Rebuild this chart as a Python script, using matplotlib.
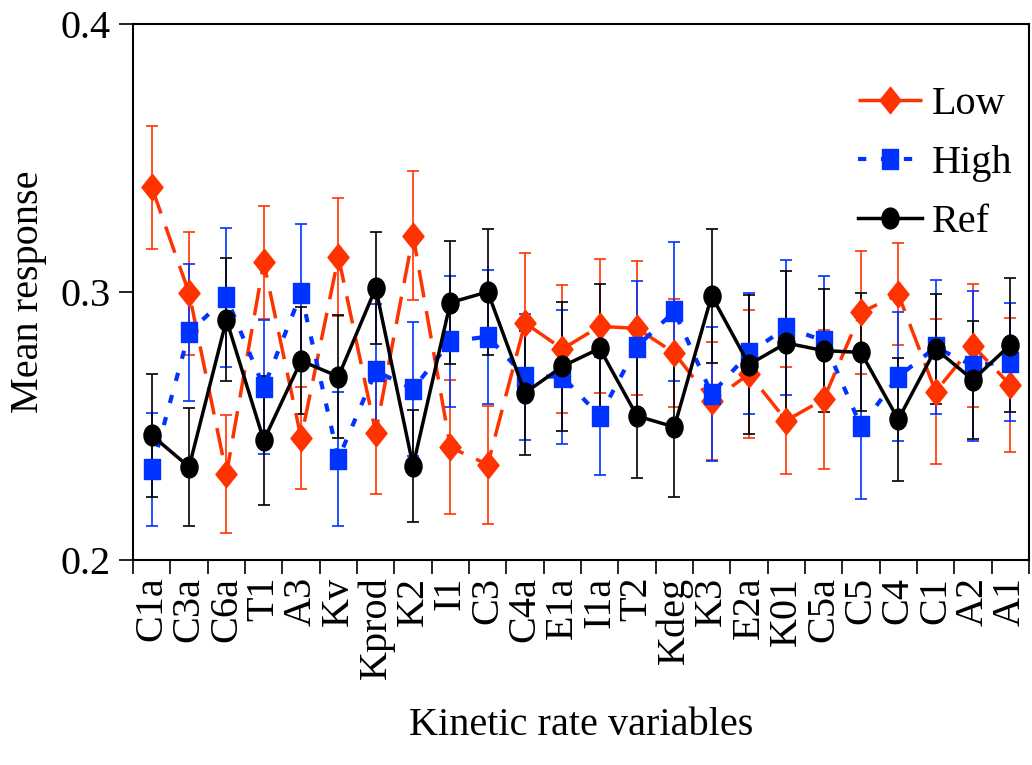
import matplotlib
matplotlib.use("Agg")
import matplotlib.pyplot as plt
import numpy as np
from matplotlib.path import Path
from matplotlib.ticker import FixedLocator

plt.rcParams["font.family"] = ["Liberation Serif", "DejaVu Serif"]

labels = ["C1a", "C3a", "C6a", "T1", "A3", "Kv", "Kprod", "K2", "I1", "C3", "C4a", "E1a",
          "I1a", "T2", "Kdeg", "K3", "E2a", "K01", "C5a", "C5", "C4", "C1", "A2", "A1"]

low = [0.339, 0.2995, 0.232, 0.311, 0.2455, 0.313, 0.2475, 0.321, 0.242, 0.2356, 0.2884, 0.2787,
       0.2871, 0.2864, 0.2772, 0.2592, 0.2694, 0.252, 0.2599, 0.2923, 0.2991, 0.2628, 0.2799, 0.2653]
low_err = [0.023, 0.023, 0.022, 0.021, 0.019, 0.022, 0.023, 0.024, 0.025, 0.022, 0.026, 0.024,
           0.025, 0.025, 0.020, 0.022, 0.024, 0.020, 0.026, 0.023, 0.019, 0.027, 0.023, 0.025]

high = [0.2338, 0.2849, 0.2979, 0.2644, 0.2994, 0.2378, 0.2704, 0.2638, 0.2815, 0.2833, 0.2684, 0.2684,
        0.2537, 0.2796, 0.2927, 0.262, 0.2771, 0.2867, 0.2818, 0.2499, 0.2684, 0.2793, 0.2725, 0.274]
high_err = [0.021, 0.0255, 0.026, 0.025, 0.026, 0.025, 0.025, 0.025, 0.0245, 0.025, 0.0235, 0.025,
            0.022, 0.0245, 0.026, 0.025, 0.0225, 0.025, 0.024, 0.027, 0.024, 0.025, 0.028, 0.022]

ref = [0.2465, 0.2347, 0.2896, 0.2446, 0.2743, 0.2684, 0.3014, 0.2351, 0.296, 0.300, 0.2623, 0.2722,
       0.2789, 0.2537, 0.2496, 0.2985, 0.2729, 0.2809, 0.2781, 0.2774, 0.2524, 0.2787, 0.2672, 0.2802]
ref_err = [0.023, 0.022, 0.023, 0.024, 0.02, 0.023, 0.021, 0.021, 0.023, 0.0235, 0.023, 0.024,
           0.024, 0.023, 0.026, 0.025, 0.026, 0.027, 0.023, 0.022, 0.023, 0.0205, 0.022, 0.025]

red = "#ff3300"
blue = "#0033ff"

# markers in the original are a bit taller than wide
tall_diamond = Path([(0, 1), (0.8, 0), (0, -1), (-0.8, 0), (0, 1)], closed=True)
tall_square = Path([(-0.75, -1), (0.75, -1), (0.75, 1), (-0.75, 1), (-0.75, -1)], closed=True)
c = Path.unit_circle()
tall_circle = Path(c.vertices * np.array([0.82, 1.0]), c.codes)

fig = plt.figure(figsize=(10.32, 7.65), dpi=100)
ax = fig.add_axes([0.129, 0.268, 0.868, 0.701])
x = np.arange(len(labels))

common = dict(elinewidth=1.2, capsize=4.5, capthick=1.2, zorder=3)
h_low = ax.errorbar(x, low, yerr=low_err, color=red, ecolor=red, linestyle=(0, (8, 4)),
                    linewidth=2.5, marker=tall_diamond, markersize=19, label="Low", **common)
h_high = ax.errorbar(x, high, yerr=high_err, color=blue, ecolor=blue, linestyle=(0, (2, 3.5)),
                     linewidth=3, marker=tall_square, markersize=15, label="High", **common)
h_ref = ax.errorbar(x, ref, yerr=ref_err, color="black", ecolor="black", linestyle="-",
                    linewidth=2.5, marker=tall_circle, markersize=15, label="Ref", **common)

ax.set_xlim(-0.5, len(labels) - 0.5)
ax.set_ylim(0.2, 0.4)
ax.set_yticks([0.2, 0.3, 0.4])
ax.set_yticklabels(["0.2", "0.3", "0.4"])
ax.set_xticks(x)
ax.set_xticklabels(labels, rotation=90)
ax.xaxis.set_minor_locator(FixedLocator(np.arange(-0.5, len(labels), 1.0)))
ax.tick_params(axis="x", which="major", length=0, labelsize=29, pad=12)
ax.tick_params(axis="x", which="minor", length=10, width=1.2, direction="out")
ax.tick_params(axis="y", length=10, width=1.2, direction="out", labelsize=29, pad=6)
for s in ax.spines.values():
    s.set_linewidth(1.5)

ax.set_ylabel("Mean response", fontsize=29, labelpad=10)
ax.set_xlabel("Kinetic rate variables", fontsize=29, labelpad=20)

ax.legend([h_low[0], h_high[0], h_ref[0]], ["Low", "High", "Ref"],
          loc="upper right", frameon=False, fontsize=29, handlelength=1.6,
          labelspacing=0.55, handletextpad=0.25, borderaxespad=0,
          bbox_to_anchor=(1.0, 0.915))

fig.savefig("out.png", dpi=100)
